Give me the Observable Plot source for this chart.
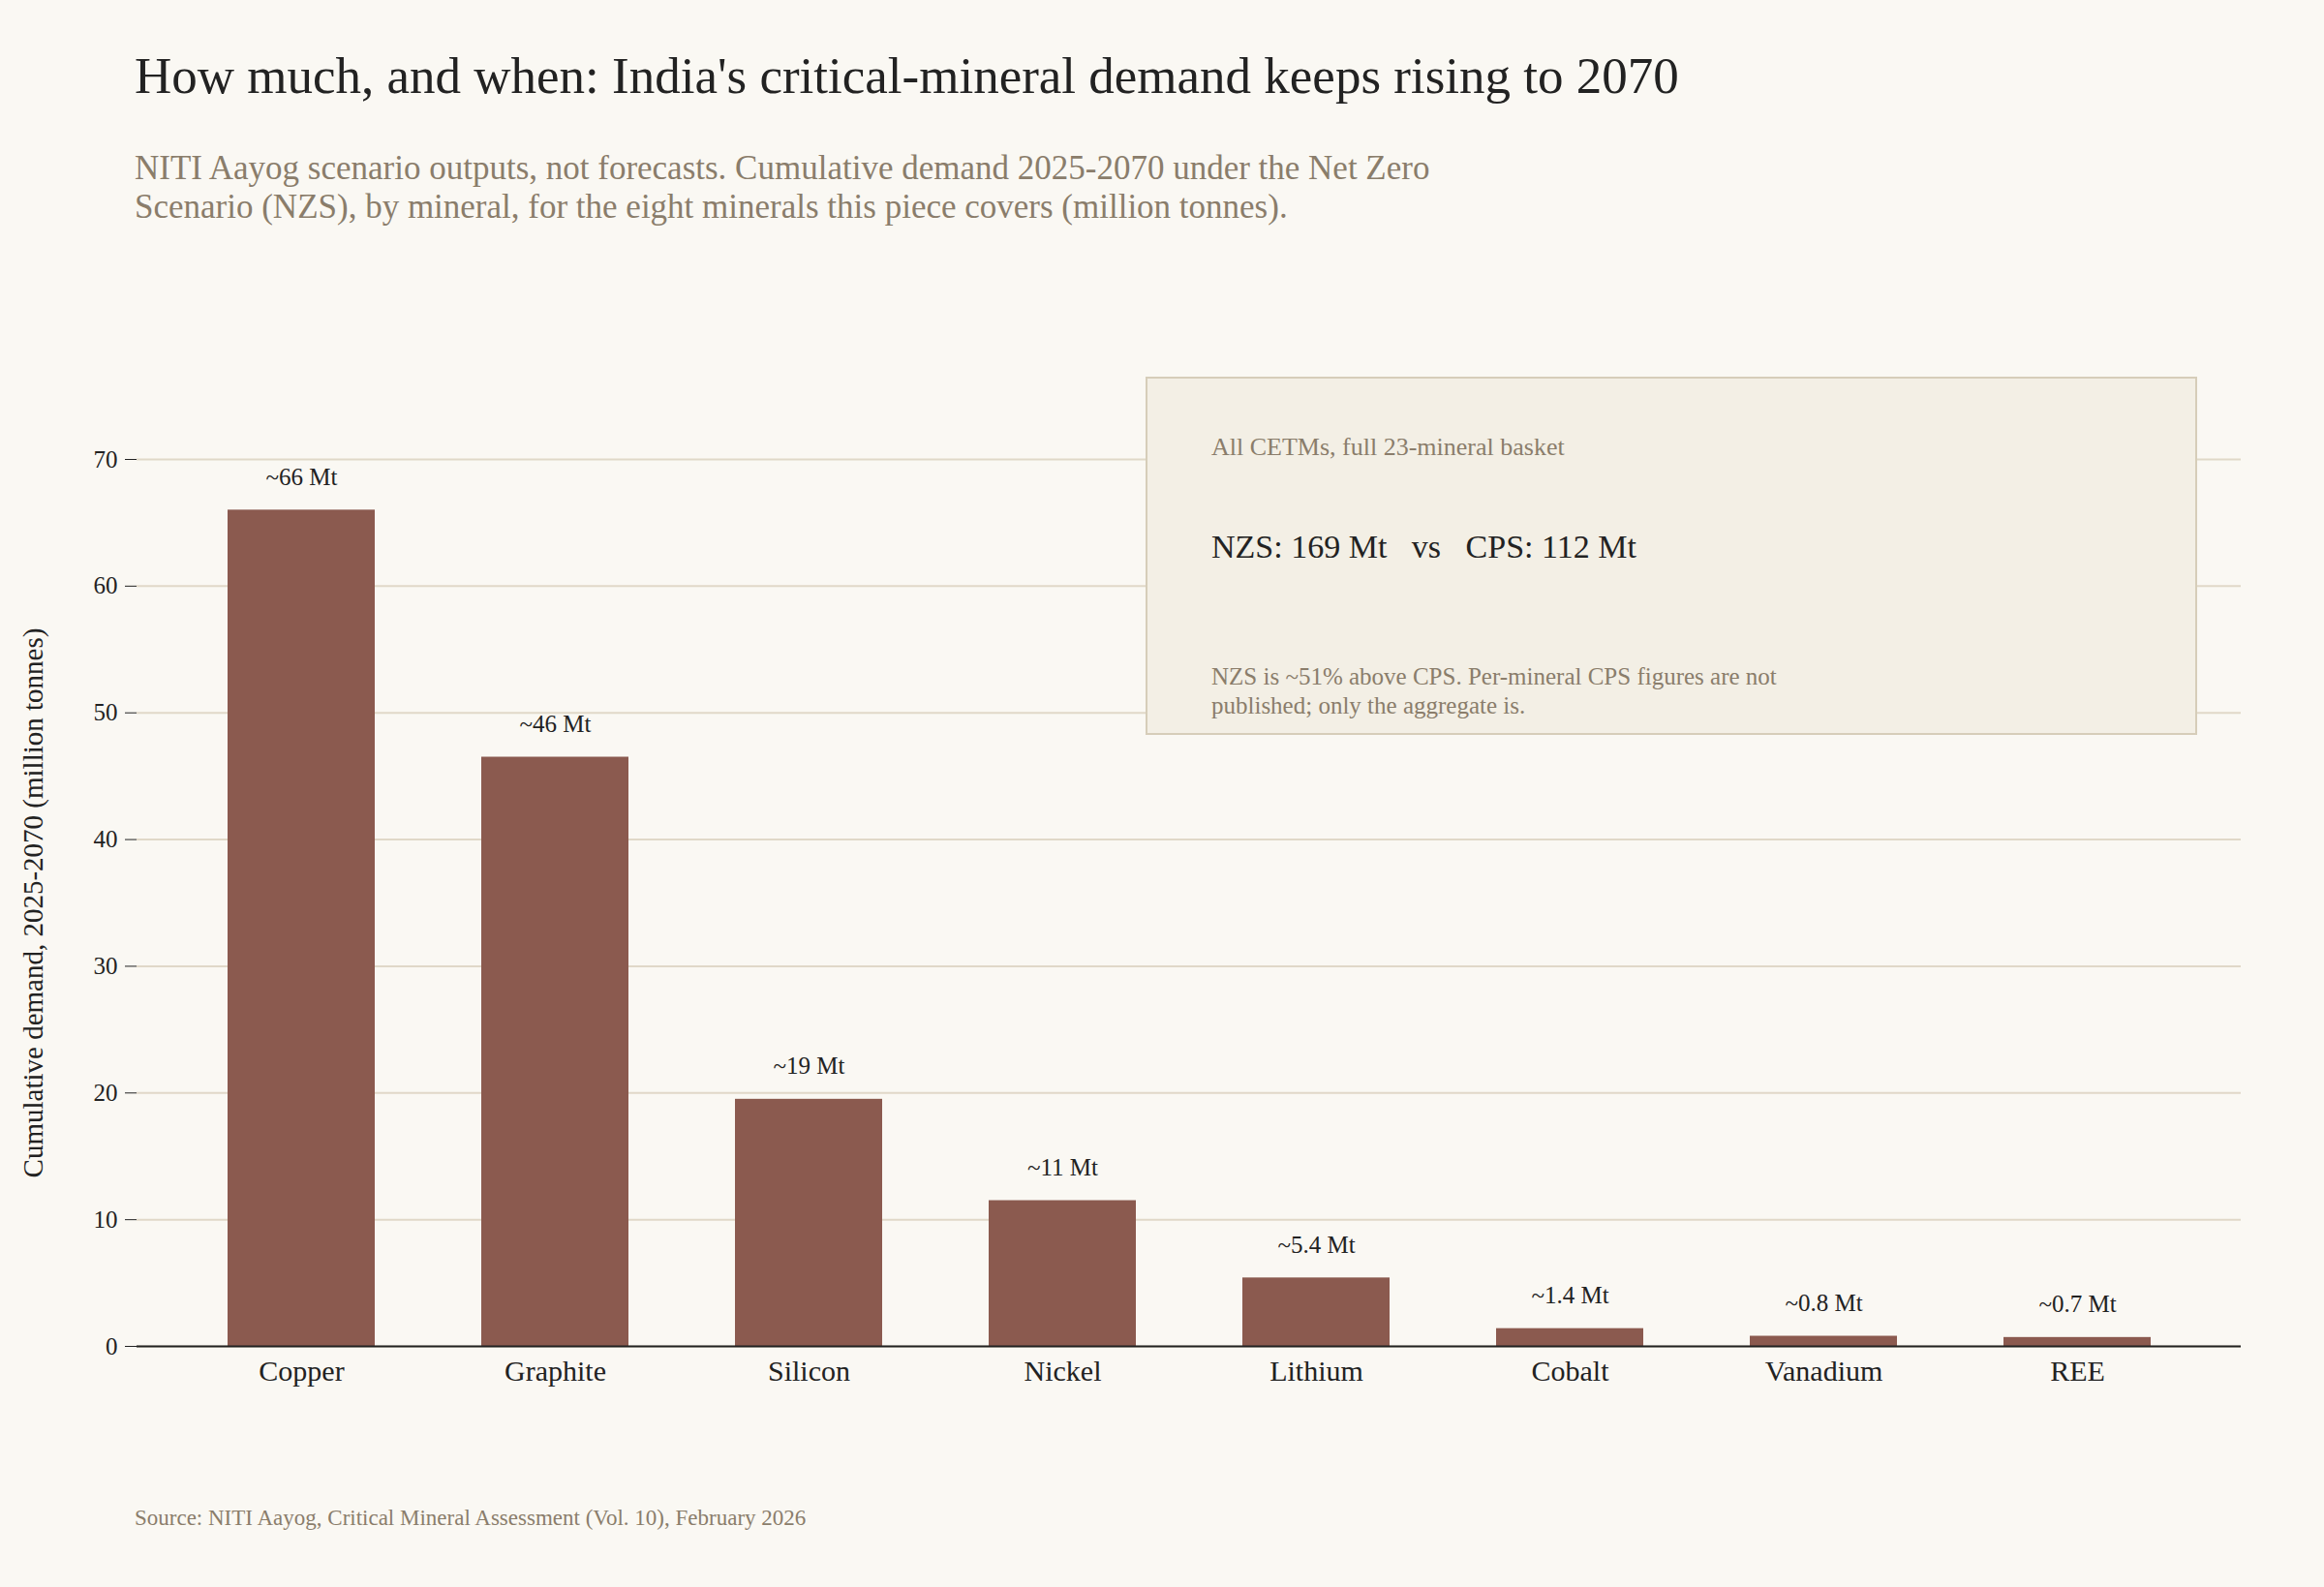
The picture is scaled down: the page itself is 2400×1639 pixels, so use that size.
<!DOCTYPE html>
<html><head><meta charset="utf-8">
<script src="https://cdn.jsdelivr.net/npm/d3@7"></script>
<script src="https://cdn.jsdelivr.net/npm/@observablehq/plot@0.6"></script>
<style>
body{margin:0;background:#faf8f3;width:2400px;height:1639px;position:relative;overflow:hidden;font-family:"Liberation Serif","DejaVu Serif",serif;}
.abs{position:absolute;}
#title{left:139px;top:48px;font-size:53px;color:#222;}
#sub{left:139px;top:154px;font-size:35px;line-height:40px;color:#8a7d6b;width:1700px;}
#src{left:139px;top:1555px;font-size:23px;color:#8a7d6b;}
#chart{left:0;top:330px;}
#box{left:1183px;top:389px;width:1086px;height:370px;background:#f3efe5;border:2px solid #d6cdb9;box-sizing:border-box;}
#b1{left:66px;top:56px;font-size:26px;color:#8a7d6b;}
#b2{left:66px;top:155px;font-size:34px;color:#222;}
#b3{left:66px;top:293px;font-size:25px;line-height:30px;color:#8a7d6b;}
</style></head><body>
<div id="title" class="abs">How much, and when: India's critical-mineral demand keeps rising to 2070</div>
<div id="sub" class="abs">NITI Aayog scenario outputs, not forecasts. Cumulative demand 2025-2070 under the Net Zero<br>Scenario (NZS), by mineral, for the eight minerals this piece covers (million tonnes).</div>
<div id="chart" class="abs"></div>
<div id="box" class="abs">
<div id="b1" class="abs">All CETMs, full 23-mineral basket</div>
<div id="b2" class="abs">NZS: 169 Mt&nbsp;&nbsp; vs &nbsp;&nbsp;CPS: 112 Mt</div>
<div id="b3" class="abs">NZS is ~51% above CPS. Per-mineral CPS figures are not<br>published; only the aggregate is.</div>
</div>
<div id="src" class="abs">Source: NITI Aayog, Critical Mineral Assessment (Vol. 10), February 2026</div>
<script>
const minerals = ["Copper","Graphite","Silicon","Nickel","Lithium","Cobalt","Vanadium","REE"];
const values = [66, 46.5, 19.5, 11.5, 5.4, 1.4, 0.8, 0.7];
const labels = ["~66 Mt","~46 Mt","~19 Mt","~11 Mt","~5.4 Mt","~1.4 Mt","~0.8 Mt","~0.7 Mt"];
const yTicks = [0,10,20,30,40,50,60,70];
const data = minerals.map((m,i)=>({m, v:values[i], l:labels[i]}));
const chart = Plot.plot({
  width: 2400, height: 1130,
  marginLeft: 141, marginRight: 86, marginTop: 144, marginBottom: 70,
  style: {background:"transparent", fontFamily:"Liberation Serif, serif", fontSize:"25px", color:"#222"},
  x: {domain: minerals, padding: 0.42, paddingOuter: 0.35, label: null, tickSize: 0, tickPadding: 14},
  y: {domain: [0,70], ticks: yTicks, label: "Cumulative demand, 2025-2070 (million tonnes)", labelAnchor: "center", labelArrow: "none", labelOffset: 118, tickSize: 12, tickPadding: 8},
  marks: [
    Plot.gridY(yTicks, {stroke:"#e0d8c8", strokeOpacity:1, strokeWidth:2}),
    Plot.barY(data, {x:"m", y:"v", fill:"#8b5a4f"}),
    Plot.ruleY([0], {stroke:"#222", strokeWidth:2}),
    Plot.text(data, {x:"m", y:"v", text:"l", dy:-34, fontSize:25, fill:"#222"}),
    Plot.axisX({fontSize:30, tickSize:0, tickPadding:14}),
    Plot.axisY(yTicks, {fontSize:25, tickSize:12, tickPadding:8, label:"Cumulative demand, 2025-2070 (million tonnes)", labelAnchor:"center", labelArrow:"none", labelOffset:118})
  ]
});
chart.querySelectorAll('[aria-label="y-axis label"] text').forEach(t=>t.setAttribute("font-size","29"));
document.getElementById("chart").appendChild(chart);
</script>
</body></html>
